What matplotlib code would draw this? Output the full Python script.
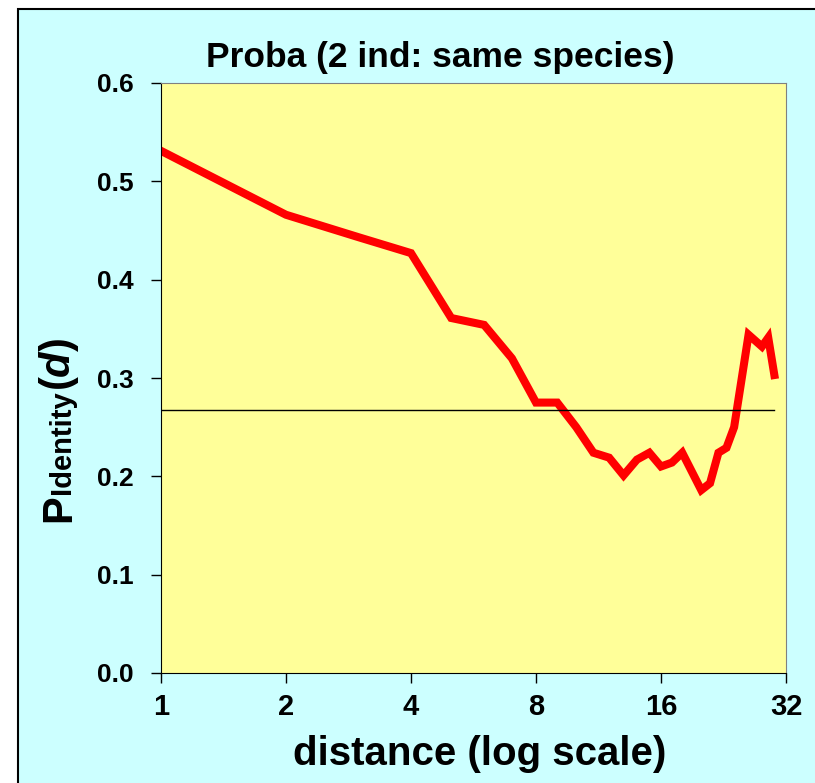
import matplotlib
matplotlib.use("Agg")
import matplotlib.pyplot as plt
from matplotlib.patches import Rectangle
from matplotlib.transforms import IdentityTransform
from matplotlib.ticker import FixedLocator, FixedFormatter, NullLocator

# distance classes and probability of identity
distance = [1, 2, 3, 4, 5, 6, 7, 8, 9, 10, 11, 12, 13, 14, 15, 16, 17, 18,
            20, 21, 22, 23, 24, 26, 28, 29, 30]
p_identity = [0.531, 0.466, 0.443, 0.427, 0.361, 0.354, 0.320, 0.275, 0.275,
              0.250, 0.224, 0.219, 0.201, 0.217, 0.224, 0.210, 0.214, 0.224,
              0.186, 0.193, 0.224, 0.229, 0.250, 0.344, 0.332, 0.341, 0.303]
mean_level = 0.267
mean_span = [1, 30]

x_ticks = [1, 2, 4, 8, 16, 32]
x_tick_labels = ["1", "2", "4", "8", "16", "32"]
y_ticks = [0.0, 0.1, 0.2, 0.3, 0.4, 0.5, 0.6]

plt.rcParams['font.family'] = ['Liberation Sans', 'DejaVu Sans']
plt.rcParams['mathtext.fontset'] = 'custom'
plt.rcParams['mathtext.rm'] = 'Liberation Sans'
plt.rcParams['mathtext.bf'] = 'Liberation Sans:bold'
plt.rcParams['mathtext.bfit'] = 'Liberation Sans:bold:italic'

W, H = 815, 783
fig = plt.figure(figsize=(W / 100, H / 100), dpi=100)
fig.patch.set_facecolor("white")
fig.patches.append(Rectangle((18 / W, -0.1), 1.2, 1.1 - 9 / H, transform=fig.transFigure,
                             facecolor="#CCFFFF", edgecolor="black", linewidth=1.5, zorder=-5))

ax = fig.add_axes([161 / W, 1 - 673 / H, 625 / W, 590 / H])
ax.set_zorder(2)
ax.set_facecolor("#FFFF99")
ax.set_xscale("log", base=2)
ax.set_xlim(1, 32)
ax.set_ylim(0, 0.6)

ax.plot(distance, p_identity, color="#FF0000", linewidth=5.8, solid_joinstyle="miter")
ax.plot(mean_span, [mean_level, mean_level], color="black", linewidth=1)

ax.xaxis.set_major_locator(FixedLocator(x_ticks))
ax.xaxis.set_major_formatter(FixedFormatter(x_tick_labels))
ax.xaxis.set_minor_locator(NullLocator())
ax.set_yticks(y_ticks)
ax.set_yticklabels([f"{v:.1f}" for v in y_ticks])

ax.tick_params(axis="both", direction="out", length=7.5, width=1)
ax.tick_params(axis="x", pad=7, labelsize=21)
ax.tick_params(axis="y", pad=12, labelsize=19)
for lab in ax.get_xticklabels() + ax.get_yticklabels():
    lab.set_fontweight("bold")

for side in ["top", "right"]:
    ax.spines[side].set_color("#808080")
for side in ["left", "bottom"]:
    ax.spines[side].set_color("black")

# title and x label placed like in the original sheet (not centred on the plot)
fig.text(440 / W, 1 - 67 / H, "Proba (2 ind: same species)", fontsize=25.5,
         fontweight="bold", ha="center", va="baseline")
fig.text(480 / W, 1 - 765 / H, "distance (log scale)", fontsize=29,
         fontweight="bold", ha="center", va="baseline")

# y label: big P, smaller "Identity" on the same baseline, then (d)
renderer = fig.canvas.get_renderer()
parts = [("P", 30), ("Identity", 21), (r"$\mathbf{(}\mathbfit{d}\mathbf{)}$", 30)]
x_base, y_pos = 70, H - 522
for s, size in parts:
    t = fig.text(x_base, y_pos, s, fontsize=size, fontweight="bold", rotation=90,
                 rotation_mode="anchor", ha="left", va="baseline",
                 transform=IdentityTransform())
    y_pos = t.get_window_extent(renderer).y1

fig.savefig("out.png", dpi=100)
